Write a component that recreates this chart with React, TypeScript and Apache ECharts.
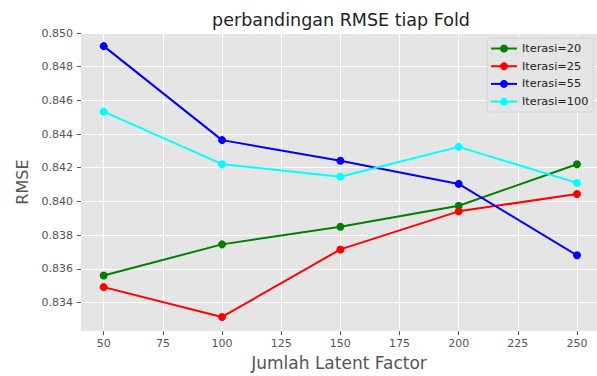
import React, { useEffect, useRef } from "react";
import * as echarts from "echarts";

const latentFactors = [50, 100, 150, 200, 250];
const iter20 = [0.8356, 0.83745, 0.8385, 0.83974, 0.84221];
const iter25 = [0.83491, 0.83314, 0.83715, 0.83941, 0.84044];
const iter55 = [0.84922, 0.84364, 0.84241, 0.84104, 0.8368];
const iter100 = [0.84533, 0.84221, 0.84147, 0.84324, 0.8411];
const xTicks = [50, 75, 100, 125, 150, 175, 200, 225, 250];
const yTicks = [0.834, 0.836, 0.838, 0.84, 0.842, 0.844, 0.846, 0.848, 0.85];
const seriesNames = ["Iterasi=20", "Iterasi=25", "Iterasi=55", "Iterasi=100"];
const seriesColors = ["#008000", "#ff0000", "#0000ff", "#00ffff"];

const FONT = "DejaVu Sans";

export default function App() {
  const ref = useRef<HTMLDivElement>(null);
  useEffect(() => {
    document.body.style.margin = "0";
    if (!ref.current) return;
    const chart = echarts.init(ref.current, undefined, { renderer: "svg" });
    const datasets = [iter20, iter25, iter55, iter100];
    chart.setOption({
      animation: false,
      backgroundColor: "#ffffff",
      textStyle: { fontFamily: FONT },
      graphic: [
        {
          type: "text",
          x: 341,
          y: 20,
          style: {
            text: "perbandingan RMSE tiap Fold",
            fontSize: 17.5,
            fontFamily: FONT,
            fill: "#222222",
            align: "center",
            verticalAlign: "middle",
          },
        },
      ],
      grid: {
        left: 81,
        top: 33,
        right: 0,
        height: 302,
        show: true,
        backgroundColor: "#E5E5E5",
        borderWidth: 0,
        containLabel: false,
      },
      legend: {
        left: 487,
        top: 38,
        orient: "vertical",
        itemWidth: 26,
        itemHeight: 10,
        itemGap: 6.7,
        padding: [5, 5, 5, 3],
        backgroundColor: "#E5E5E5",
        borderColor: "#d4d4d4",
        borderWidth: 1,
        borderRadius: 3,
        textStyle: { fontSize: 11.3, color: "#222222", fontFamily: FONT },
        data: seriesNames,
      },
      xAxis: {
        type: "value",
        min: 40.4,
        max: 258.45,
        name: "Jumlah Latent Factor",
        nameLocation: "middle",
        nameGap: 22,
        nameTextStyle: { fontSize: 17, color: "#555555", fontFamily: FONT },
        axisLine: { show: false },
        axisTick: {
          show: true,
          length: 4,
          lineStyle: { color: "#555555" },
          customValues: xTicks,
        },
        axisLabel: {
          color: "#555555",
          fontSize: 11,
          margin: 7,
          fontFamily: FONT,
          customValues: xTicks,
        },
        splitLine: { show: true, lineStyle: { color: "#ffffff", width: 1 } },
      },
      yAxis: {
        type: "value",
        min: 0.8323,
        max: 0.85,
        name: "RMSE",
        nameLocation: "middle",
        nameGap: 49,
        nameTextStyle: { fontSize: 16, color: "#555555", fontFamily: FONT },
        axisLine: { show: false },
        axisTick: {
          show: true,
          length: 4,
          lineStyle: { color: "#555555" },
          customValues: yTicks,
        },
        axisLabel: {
          color: "#555555",
          fontSize: 11,
          margin: 8,
          fontFamily: FONT,
          customValues: yTicks,
          formatter: (v: number) => v.toFixed(3),
        },
        splitLine: { show: true, lineStyle: { color: "#ffffff", width: 1 } },
      },
      series: datasets.map((d, i) => ({
        name: seriesNames[i],
        type: "line",
        data: latentFactors.map((x, j) => [x, d[j]]),
        symbol: "circle",
        symbolSize: 8,
        lineStyle: { color: seriesColors[i], width: 2 },
        itemStyle: { color: seriesColors[i] },
        z: 3,
      })),
    });
    return () => chart.dispose();
  }, []);
  return <div ref={ref} style={{ width: 597, height: 376 }} />;
}
